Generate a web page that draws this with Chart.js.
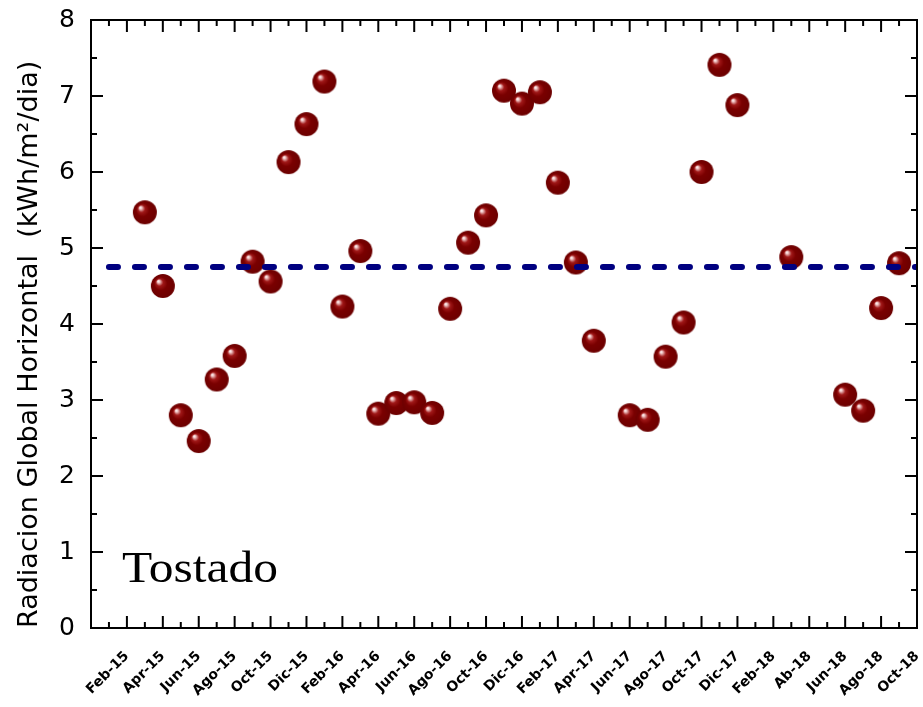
<!DOCTYPE html>
<html>
<head>
    <script src="https://cdn.jsdelivr.net/npm/chart.js"></script>
    <title>Tostado</title>
    <style>
        body { margin: 0; background: #fff; }
        #wrap { width: 923px; height: 707px; }
    </style>
</head>
<body>
    <div id="wrap"><canvas id="radChart" width="923" height="707"></canvas></div>

    <script>
        // months from Dic-14 (index 0) to Oct-18 (index 46)
        const months = [
            'Dic-14', 'Ene-15', 'Feb-15', 'Mar-15', 'Apr-15', 'May-15', 'Jun-15', 'Jul-15', 'Ago-15', 'Sep-15', 'Oct-15', 'Nov-15',
            'Dic-15', 'Ene-16', 'Feb-16', 'Mar-16', 'Apr-16', 'May-16', 'Jun-16', 'Jul-16', 'Ago-16', 'Sep-16', 'Oct-16', 'Nov-16',
            'Dic-16', 'Ene-17', 'Feb-17', 'Mar-17', 'Apr-17', 'May-17', 'Jun-17', 'Jul-17', 'Ago-17', 'Sep-17', 'Oct-17', 'Nov-17',
            'Dic-17', 'Ene-18', 'Feb-18', 'Mar-18', 'Ab-18', 'May-18', 'Jun-18', 'Jul-18', 'Ago-18', 'Sep-18', 'Oct-18'
        ];
        // monthly global horizontal radiation (kWh/m2/dia), null = no data
        const radiation = [
            null, null, null, 5.47, 4.50, 2.80, 2.46, 3.27, 3.58, 4.82, 4.56, 6.13,
            6.63, 7.19, 4.23, 4.96, 2.82, 2.96, 2.97, 2.83, 4.20, 5.07, 5.43, 7.07,
            6.90, 7.05, 5.86, 4.81, 3.78, null, 2.80, 2.74, 3.57, 4.02, 6.00, 7.41,
            6.88, null, null, 4.88, null, null, 3.07, 2.86, 4.21, 4.80, null
        ];
        const meanValue = 4.75;
        const meanFrom = 1;
        const meanTo = 46;
        const yTicks = [0, 1, 2, 3, 4, 5, 6, 7, 8];

        const points = [];
        radiation.forEach((v, i) => {
            if (v !== null) points.push({ x: i, y: v });
        });

        // shaded sphere used as the point marker
        function makeSphere(r) {
            const c = document.createElement('canvas');
            c.width = r * 2 + 2;
            c.height = r * 2 + 2;
            const g = c.getContext('2d');
            const cx = r + 1, cy = r + 1;
            const grad = g.createRadialGradient(cx - r * 0.4, cy - r * 0.42, 0, cx, cy, r);
            grad.addColorStop(0, '#ffffff');
            grad.addColorStop(0.1, '#f4d0d0');
            grad.addColorStop(0.3, '#a01818');
            grad.addColorStop(0.55, '#7a0000');
            grad.addColorStop(1, '#6c0000');
            g.fillStyle = grad;
            g.beginPath();
            g.arc(cx, cy, r, 0, Math.PI * 2);
            g.fill();
            return c;
        }
        const sphere = makeSphere(12);

        const frameTicks = {
            id: 'frameTicks',
            afterDraw(chart) {
                const ctx = chart.ctx;
                const a = chart.chartArea;
                const xs = chart.scales.x;
                const ys = chart.scales.y;
                ctx.save();
                ctx.strokeStyle = '#000';
                ctx.lineWidth = 2;
                ctx.strokeRect(a.left, a.top, a.right - a.left, a.bottom - a.top);
                ctx.beginPath();
                for (let m = 0; m <= months.length - 1; m++) {
                    const px = xs.getPixelForValue(m);
                    const len = m % 2 === 0 ? 12 : 6;
                    ctx.moveTo(px, a.bottom);
                    ctx.lineTo(px, a.bottom - len);
                    ctx.moveTo(px, a.top);
                    ctx.lineTo(px, a.top + len);
                }
                for (let v = 0; v <= 8; v += 0.5) {
                    const py = ys.getPixelForValue(v);
                    const len = Number.isInteger(v) ? 12 : 6;
                    ctx.moveTo(a.left, py);
                    ctx.lineTo(a.left + len, py);
                    ctx.moveTo(a.right, py);
                    ctx.lineTo(a.right - len, py);
                }
                ctx.stroke();
                // station name
                ctx.fillStyle = '#000';
                ctx.font = '45px "Liberation Serif", "Times New Roman", serif';
                ctx.textBaseline = 'alphabetic';
                ctx.translate(a.left + 31, a.bottom - 46);
                ctx.scale(1.1, 1);
                ctx.fillText('Tostado', 0, 0);
                ctx.restore();
            }
        };

        const chart = new Chart(document.getElementById('radChart'), {
            type: 'scatter',
            data: {
                datasets: [
                    {
                        type: 'line',
                        label: 'Promedio',
                        data: [{ x: meanFrom, y: meanValue }, { x: meanTo, y: meanValue }],
                        borderColor: '#000080',
                        borderWidth: 6,
                        borderDash: [9, 17],
                        borderCapStyle: 'round',
                        pointRadius: 0,
                        fill: false
                    },
                    {
                        label: 'Radiacion',
                        data: points,
                        pointStyle: sphere,
                        pointRadius: 12,
                        pointHoverRadius: 12
                    }
                ]
            },
            options: {
                responsive: false,
                animation: false,
                layout: { autoPadding: false, padding: { top: 20, right: 6, left: 0, bottom: 0 } },
                plugins: {
                    legend: { display: false },
                    tooltip: { enabled: false }
                },
                scales: {
                    x: {
                        type: 'linear',
                        min: 0,
                        max: months.length - 1,
                        grid: { display: false },
                        border: { display: false },
                        afterFit(scale) {
                            scale.height = 79;
                            scale.paddingLeft = 0;
                            scale.paddingRight = 0;
                        },
                        ticks: {
                            stepSize: 2,
                            autoSkip: false,
                            minRotation: 45,
                            maxRotation: 45,
                            padding: 12,
                            color: '#000',
                            font: { family: '"DejaVu Sans", sans-serif', size: 14, weight: 'bold' },
                            callback: (v) => (v === 0 ? '' : months[v])
                        }
                    },
                    y: {
                        min: 0,
                        max: 8,
                        grid: { display: false },
                        border: { display: false },
                        afterFit(scale) {
                            scale.width = 91;
                            scale.paddingTop = 0;
                            scale.paddingBottom = 0;
                        },
                        afterBuildTicks(scale) {
                            scale.ticks = yTicks.map(v => ({ value: v }));
                        },
                        ticks: {
                            padding: 8,
                            color: '#000',
                            font: { family: '"DejaVu Sans", sans-serif', size: 25 }
                        },
                        title: {
                            display: true,
                            align: 'start',
                            text: 'Radiacion Global Horizontal  (kWh/m\u00B2/dia)',
                            color: '#000',
                            padding: { top: 14, bottom: 0 },
                            font: { family: '"DejaVu Sans", sans-serif', size: 27 }
                        }
                    }
                }
            },
            plugins: [frameTicks]
        });
    </script>
</body>
</html>
